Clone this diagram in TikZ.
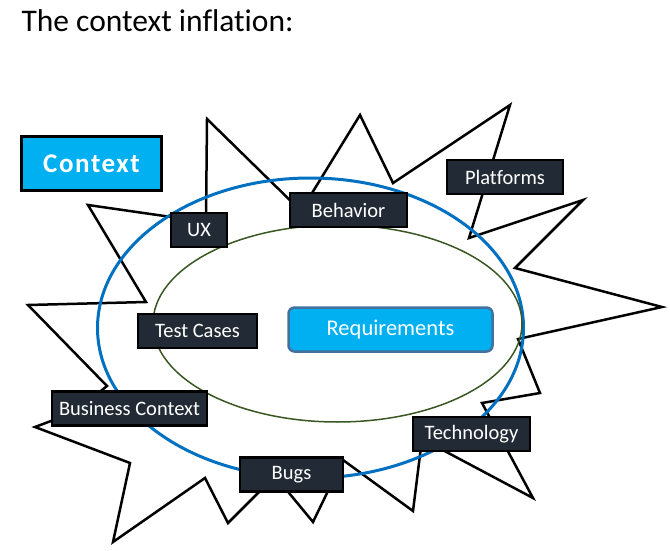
\documentclass[tikz,border=0pt]{standalone}
\usepackage{fontspec}
\setmainfont{Carlito}[Ligatures=NoCommon]
\definecolor{tagdark}{HTML}{222A35}
\definecolor{skycyan}{HTML}{00B0F0}
\definecolor{reqedge}{HTML}{41719C}
\definecolor{ringblue}{HTML}{0070C0}
\definecolor{ringgreen}{HTML}{385723}
\tikzset{
	tagbox/.style={draw=black,line width=2.5pt,fill=tagdark,text=white,inner sep=0pt,
		font=\fontsize{20.5}{24}\selectfont,minimum height=34},
	burst/.style={draw=black,line width=2.5pt,line join=miter},
}
\newcommand{\tagnode}[5]
{\node[tagbox,minimum width=#4] (#1) at (#2,#3) {#5};
}

\begin{document}
\begin{tikzpicture}[x=1pt,y=-1pt]
\useasboundingbox (0,0) rectangle (670,551);

\node[anchor=base west,font=\fontsize{31.5}{36}\selectfont] (title) at (18,32) {The context inflation:};

% the burst
\draw[burst] (207,119) -- (301,211) -- (360,115) -- (393,183) -- (510,105) -- (469,238)
	-- (583,200) -- (515,268) -- (662,307) -- (518,339) -- (540,393) -- (482,403)
	-- (533,498) -- (422,439) -- (413,511) -- (343,460) -- (313,522) -- (275,476)
	-- (228,523) -- (205,478) -- (113,542) -- (130,463) -- (35,427) -- (75,412)
	-- (107,386) -- (28,305) -- (146,302) -- (88,205) -- (206,222) -- cycle;

% rings
\draw[ringblue,line width=3pt] (310.5,328) ellipse (213pt and 150pt);
\draw[ringgreen,line width=1.5pt] (337.5,323.5) ellipse (184.5pt and 98.5pt);

\node[draw=black,line width=2.5pt,fill=skycyan,text=white,inner sep=0pt,
	minimum width=140,minimum height=54,
	font=\bfseries\fontsize{27}{30}\selectfont\addfontfeature{LetterSpace=6}] (context) at (91.5,163.5) {Context};
\node[draw=reqedge,line width=2.5pt,fill=skycyan,text=white,rounded corners=6pt,inner sep=0pt,
	minimum width=204,minimum height=44,font=\fontsize{22.5}{26}\selectfont] (req) at (390.5,329.5) {Requirements};

\tagnode{ux}{199}{230}{56}{UX}
\tagnode{behavior}{348.5}{210}{117}{Behavior}
\tagnode{platforms}{505}{177}{116}{Platforms}
\tagnode{testcases}{197.5}{331}{119}{Test Cases}
\tagnode{business}{129.5}{408.5}{155}{Business Context}
\tagnode{technology}{471.5}{434}{117}{Technology}
\tagnode{bugs}{291.5}{474.5}{103}{Bugs}
\end{tikzpicture}
\end{document}
